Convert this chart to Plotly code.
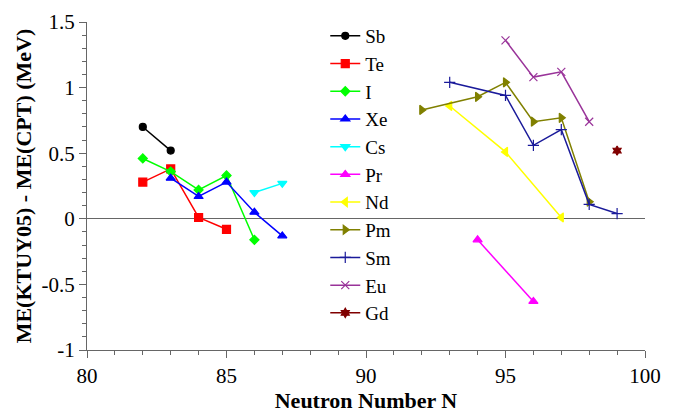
import plotly.graph_objects as go

# ---- data ----
sb_n = [82, 83]
sb_v = [0.70, 0.52]
te_n = [82, 83, 84, 85]
te_v = [0.28, 0.38, 0.01, -0.08]
i_n = [82, 83, 84, 85, 86]
i_v = [0.46, 0.36, 0.22, 0.33, -0.16]
xe_n = [83, 84, 85, 86, 87]
xe_v = [0.31, 0.17, 0.28, 0.05, -0.13]
cs_n = [86, 87]
cs_v = [0.20, 0.27]
pr_n = [94, 96]
pr_v = [-0.16, -0.63]
nd_n = [93, 95, 97]
nd_v = [0.86, 0.51, 0.01]
pm_n = [92, 94, 95, 96, 97, 98]
pm_v = [0.83, 0.93, 1.04, 0.74, 0.77, 0.13]
sm_n = [93, 95, 96, 97, 98, 99]
sm_v = [1.04, 0.94, 0.56, 0.68, 0.11, 0.04]
eu_n = [95, 96, 97, 98]
eu_v = [1.36, 1.08, 1.12, 0.74]
gd_n = [99]
gd_v = [0.52]

y_tickvals = [-1, -0.5, 0, 0.5, 1, 1.5]
y_ticktext = ["-1", "-0.5", "0", "0.5", "1", "1.5"]
x_tickvals = [80, 85, 90, 95, 100]

series = [
    ("Sb", sb_n, sb_v, "#000000", "circle", 7),
    ("Te", te_n, te_v, "#ff0000", "square", 8),
    ("I", i_n, i_v, "#00ff00", "diamond", 7),
    ("Xe", xe_n, xe_v, "#0000ff", "triangle-up", 8),
    ("Cs", cs_n, cs_v, "#00ffff", "triangle-down", 8),
    ("Pr", pr_n, pr_v, "#ff00ff", "triangle-up", 8),
    ("Nd", nd_n, nd_v, "#ffff00", "triangle-left", 8),
    ("Pm", pm_n, pm_v, "#808000", "triangle-right", 8),
    ("Sm", sm_n, sm_v, "#1a1a9a", "cross-thin-open", 8),
    ("Eu", eu_n, eu_v, "#993399", "x-thin-open", 8),
    ("Gd", gd_n, gd_v, "#800000", "hexagram", 7),
]

fig = go.Figure()
for name, n, v, col, sym, sz in series:
    fig.add_trace(go.Scatter(
        x=n, y=v, name=name, mode="lines+markers",
        legendgroup=name,
        line=dict(color=col, width=1.5),
        marker=dict(color=col, symbol=sym, size=sz,
                    line=dict(color=col, width=1.2)),
    ))

font_family = "Liberation Serif"
axis_col = "#666666"

fig.update_layout(
    width=694, height=418,
    margin=dict(l=87, r=49, t=10, b=61),
    plot_bgcolor="white", paper_bgcolor="white",
    font=dict(family=font_family, size=21, color="black"),
    showlegend=True,
    legend=dict(
        x=0.427, y=0.535, xanchor="left", yanchor="middle",
        bgcolor="rgba(0,0,0,0)", borderwidth=0,
        font=dict(family=font_family, size=19, color="black"),
        tracegroupgap=0, traceorder="grouped",
    ),
    xaxis=dict(
        range=[80, 100], tickvals=x_tickvals,
        showgrid=False, zeroline=False,
        showline=True, linecolor=axis_col, linewidth=1,
        ticks="outside", ticklen=7, tickcolor=axis_col,
        minor=dict(dtick=1, ticks="outside", ticklen=4, tickcolor=axis_col),
        tickfont=dict(family=font_family, size=21, color="black"),
        ticklabeloverflow="allow",
        title=dict(text="<b>Neutron Number N</b>",
                   font=dict(family=font_family, size=22, color="black"),
                   standoff=4),
    ),
    yaxis=dict(
        range=[-1, 1.5], tickvals=y_tickvals, ticktext=y_ticktext,
        showgrid=False,
        zeroline=True, zerolinecolor=axis_col, zerolinewidth=1,
        showline=True, linecolor=axis_col, linewidth=1,
        ticks="outside", ticklen=7, tickcolor=axis_col,
        minor=dict(dtick=0.1, ticks="outside", ticklen=4, tickcolor=axis_col),
        tickfont=dict(family=font_family, size=21, color="black"),
        ticklabeloverflow="allow",
        title=dict(text="<b>ME(KTUY05) - ME(CPT) (MeV)</b>",
                   font=dict(family=font_family, size=22, color="black"),
                   standoff=3),
    ),
)

fig.write_html(
    "out.html",
    config={"displayModeBar": False},
    post_script="document.body.style.margin='0';document.body.style.padding='0';",
)
